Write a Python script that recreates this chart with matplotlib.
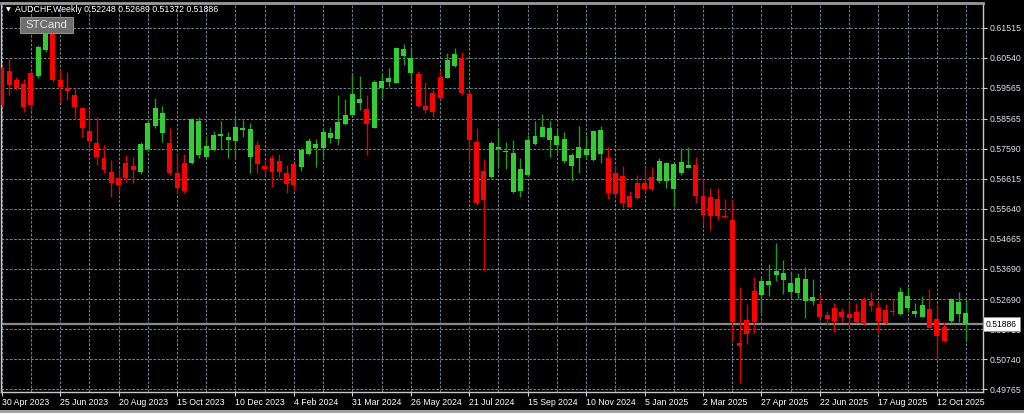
import numpy as np
import pandas as pd
import matplotlib
matplotlib.use('Agg')
from matplotlib import pyplot as plt
from matplotlib import transforms
from matplotlib.patches import Rectangle

symbol = 'AUDCHF,Weekly'
indicator = 'STCand'
first_week = '2023-04-30'

# weekly bars (price units)
opens = [0.60214, 0.60116, 0.59823, 0.59693, 0.60051, 0.59953, 0.60799, 0.61352, 0.59823, 0.59563,
         0.59336, 0.58913, 0.58165, 0.57775, 0.57287, 0.56831, 0.56636, 0.57124, 0.57027, 0.56831,
         0.57580, 0.58328, 0.58100, 0.57775, 0.56799, 0.57124, 0.57124, 0.57384, 0.57319, 0.57547,
         0.58002, 0.57872, 0.57840, 0.58198, 0.57319, 0.57710, 0.57027, 0.57287, 0.57189, 0.56799,
         0.57092, 0.56994, 0.57417, 0.57612, 0.57612, 0.57937, 0.57905, 0.58393, 0.58685, 0.59075,
         0.58880, 0.58263, 0.59563, 0.59758, 0.59726, 0.60604, 0.60051, 0.60019, 0.58978, 0.59401,
         0.59921, 0.59888, 0.60279, 0.60539, 0.59368, 0.57807, 0.56864, 0.56669, 0.57580, 0.57482,
         0.56181, 0.56214, 0.56734, 0.57742, 0.57970, 0.57872, 0.57710, 0.57189, 0.57027, 0.57287,
         0.57384, 0.57222, 0.57417, 0.57287, 0.56799, 0.56701, 0.56051, 0.56474, 0.56474, 0.56669,
         0.56539, 0.56539, 0.56279, 0.56799, 0.56962, 0.57059, 0.56051, 0.56019, 0.55954, 0.55401,
         0.55271, 0.51271, 0.52019, 0.52962, 0.52832, 0.53157, 0.53482, 0.53319, 0.52930, 0.52897,
         0.52637, 0.52637, 0.52539, 0.52181, 0.52409, 0.52279, 0.52214, 0.52279, 0.52702, 0.52637,
         0.52409, 0.52344, 0.52311, 0.52214, 0.52409, 0.52214, 0.52116, 0.52377, 0.52051, 0.51791,
         0.51986, 0.52214, 0.52248]
highs = [0.60279, 0.60539, 0.59921, 0.59856, 0.60149, 0.60962, 0.61449, 0.61384, 0.60181, 0.60084,
         0.59563, 0.58945, 0.58913, 0.58620, 0.57710, 0.57222, 0.56929, 0.57384, 0.57319, 0.57807,
         0.58555, 0.59238, 0.58978, 0.58263, 0.57449, 0.57417, 0.58588, 0.58620, 0.57970, 0.58165,
         0.58490, 0.58132, 0.58653, 0.58523, 0.58425, 0.57840, 0.57222, 0.57384, 0.57417, 0.57059,
         0.57124, 0.57612, 0.57937, 0.57905, 0.58263, 0.58295, 0.59336, 0.59206, 0.60019, 0.59953,
         0.59336, 0.59823, 0.60019, 0.60214, 0.60880, 0.60994, 0.60897, 0.60116, 0.59758, 0.59531,
         0.60116, 0.60701, 0.60864, 0.60734, 0.59498, 0.58263, 0.57254, 0.57840, 0.58198, 0.57807,
         0.57872, 0.57287, 0.58035, 0.58490, 0.58718, 0.58490, 0.58230, 0.58132, 0.57449, 0.58328,
         0.58035, 0.58198, 0.58328, 0.57645, 0.57027, 0.57027, 0.56214, 0.56734, 0.56994, 0.56994,
         0.57287, 0.57157, 0.57124, 0.57612, 0.57645, 0.57319, 0.56636, 0.56311, 0.56311, 0.55954,
         0.55921, 0.53092, 0.52539, 0.53417, 0.53417, 0.53840, 0.54523, 0.53970, 0.53580, 0.53547,
         0.53742, 0.53352, 0.52864, 0.52311, 0.52572, 0.52409, 0.52604, 0.52572, 0.52767, 0.52930,
         0.52604, 0.52539, 0.52702, 0.53092, 0.53092, 0.52572, 0.52799, 0.53027, 0.52507, 0.51954,
         0.52734, 0.52930, 0.52689]
lows = [0.58945, 0.59336, 0.59498, 0.58783, 0.58848, 0.59888, 0.60734, 0.59758, 0.59108, 0.59173,
        0.58555, 0.57970, 0.57677, 0.57059, 0.56799, 0.56019, 0.56181, 0.56506, 0.56474, 0.56766,
        0.57515, 0.58263, 0.57807, 0.56734, 0.56149, 0.56149, 0.57092, 0.57287, 0.57319, 0.57515,
        0.57547, 0.57287, 0.57287, 0.57970, 0.56799, 0.56799, 0.56734, 0.56344, 0.56669, 0.56149,
        0.56246, 0.56864, 0.57384, 0.56994, 0.57319, 0.57775, 0.57710, 0.58360, 0.58685, 0.58848,
        0.57384, 0.58263, 0.59238, 0.59596, 0.59710, 0.60311, 0.59758, 0.58945, 0.58750, 0.58620,
        0.59206, 0.59888, 0.60246, 0.59336, 0.57157, 0.55759, 0.53612, 0.56636, 0.56994, 0.56929,
        0.56149, 0.56019, 0.56701, 0.57710, 0.57970, 0.57319, 0.57449, 0.57124, 0.56539, 0.56799,
        0.57254, 0.57189, 0.57124, 0.55954, 0.56019, 0.55661, 0.55693, 0.55954, 0.56181, 0.56246,
        0.56474, 0.56311, 0.55693, 0.56734, 0.56962, 0.55824, 0.55108, 0.54945, 0.55271, 0.55336,
        0.51336, 0.49970, 0.51238, 0.51596, 0.52246, 0.52799, 0.53287, 0.52864, 0.52734, 0.52702,
        0.52084, 0.52507, 0.52084, 0.51856, 0.51629, 0.51954, 0.51791, 0.51921, 0.51856, 0.52311,
        0.51596, 0.51889, 0.52181, 0.52181, 0.52279, 0.52116, 0.52116, 0.51759, 0.50750, 0.51303,
        0.51921, 0.51954, 0.51372]
closes = [0.59010, 0.59661, 0.59563, 0.58945, 0.59010, 0.60897, 0.61352, 0.59823, 0.59596, 0.59466,
          0.58945, 0.58263, 0.57840, 0.57319, 0.56897, 0.56474, 0.56409, 0.56636, 0.56897, 0.57742,
          0.58425, 0.58913, 0.58750, 0.56799, 0.56311, 0.56214, 0.58555, 0.58490, 0.57677, 0.58035,
          0.58067, 0.57970, 0.58295, 0.58263, 0.58230, 0.57092, 0.56929, 0.56831, 0.56831, 0.56441,
          0.56409, 0.57547, 0.57840, 0.57742, 0.58132, 0.58100, 0.58458, 0.58685, 0.59368, 0.59206,
          0.58393, 0.59758, 0.59791, 0.59888, 0.60864, 0.60832, 0.60539, 0.58978, 0.58848, 0.58783,
          0.59238, 0.60474, 0.60669, 0.59401, 0.57872, 0.55824, 0.55921, 0.57775, 0.57645, 0.57515,
          0.57449, 0.56929, 0.57872, 0.58002, 0.58295, 0.58263, 0.58002, 0.57905, 0.57384, 0.57645,
          0.57580, 0.58165, 0.58198, 0.56149, 0.56116, 0.55824, 0.55693, 0.55986, 0.56279, 0.56279,
          0.57189, 0.57124, 0.57092, 0.57157, 0.57059, 0.56051, 0.55433, 0.55401, 0.55401, 0.55368,
          0.51954, 0.51173, 0.51563, 0.51954, 0.53287, 0.53287, 0.53612, 0.53547, 0.53222, 0.53384,
          0.53352, 0.52767, 0.52116, 0.52051, 0.51986, 0.52116, 0.52084, 0.51954, 0.51889, 0.52474,
          0.51986, 0.51921, 0.52279, 0.52930, 0.52799, 0.52311, 0.52507, 0.51759, 0.51498, 0.51336,
          0.52702, 0.52604, 0.51886]

# STCand colouring per bar (g = up colour, r = down colour)
st_colour = ("r" * 5 + "g" * 2 + "r" * 12 + "g" * 4 + "r" * 3 + "g" * 9 + "r" * 6 + "g" * 9
             + "r" + "g" * 6 + "r" * 4 + "g" * 2 + "r" * 4 + "g" * 16 + "r" * 7 + "g" * 5
             + "r" * 9 + "g" * 8 + "r" * 11 + "g" * 4 + "r" * 3 + "g" * 3)

price_ticks = ['0.49765', '0.50740', '0.51715', '0.52690', '0.53690', '0.54665', '0.55640',
               '0.56615', '0.57590', '0.58565', '0.59565', '0.60540', '0.61515']

weeks = pd.date_range(first_week, periods=len(opens), freq='7D')
x = np.arange(len(opens))
o = np.array(opens)
h = np.array(highs)
l = np.array(lows)
c = np.array(closes)

plt.rcParams['font.family'] = ['Liberation Sans', 'DejaVu Sans']

fig = plt.figure(figsize=(10.24, 4.13), dpi=100, facecolor='black')
ax = fig.add_axes([1 / 1024, 21 / 413, 982 / 1024, 389 / 413])
ax.set_facecolor('black')

bull = np.array([s == 'g' for s in st_colour])
body_col = np.where(bull, '#32CD32', '#FF0000')
wick_col = np.where(bull, '#1F9A1F', '#E00000')
bot = np.minimum(o, c)
body_h = np.maximum(np.abs(c - o), 0.0003)

ax.vlines(x, l, h, colors=wick_col, linewidth=1.0, zorder=3)
ax.bar(x, body_h, bottom=bot, width=0.68, color=body_col, linewidth=0, zorder=4)

# current price line + tag (the tag covers part of the 0.51715 label, as in MT4)
ax.axhline(c[-1], color='#8a8a8a', linewidth=1.6, zorder=2)
trans = transforms.blended_transform_factory(ax.transAxes, ax.transData)
ax.text(1.003, c[-1], f'{c[-1]:.5f}', transform=trans, ha='left', va='center',
        fontsize=6.2, color='black', zorder=10, clip_on=False,
        bbox=dict(boxstyle='square,pad=0.3', facecolor='white', edgecolor='#909090', linewidth=0.6))

ax.set_xlim(-0.1, 134.33)
ax.set_ylim(0.49677, 0.62327)

ax.set_xticks(x[::8])
ax.set_xticklabels([f"{d.day} {d.strftime('%b %Y')}" for d in weeks[::8]], ha='left')
ax.set_xticks(x[::4], minor=True)
ax.yaxis.tick_right()
ax.set_yticks([float(t) for t in price_ticks])
ax.set_yticklabels(price_ticks)

grid_kw = dict(color='#6F7E8F', linestyle=(0, (2.4, 1.4)), linewidth=0.8)
ax.grid(axis='x', which='both', **grid_kw)
ax.grid(axis='y', which='major', **grid_kw)
ax.set_axisbelow(True)

ax.tick_params(axis='x', which='major', colors='#d0d0d0', labelcolor='white', labelsize=6.3,
               length=3, width=0.8, pad=1.5, direction='out')
ax.tick_params(axis='x', which='minor', length=0)
ax.tick_params(axis='y', colors='#d0d0d0', labelcolor='#dde3ea', labelsize=6.3,
               length=3, width=0.8, pad=2, direction='out')

for side in ('left', 'right', 'bottom'):
    ax.spines[side].set_color('#c8c8c8')
    ax.spines[side].set_linewidth(1.0)
ax.spines['top'].set_color('#9a9a9a')
ax.spines['top'].set_linewidth(2.0)

# header: symbol and last bar OHLC
fig.text(8 / 1024, 1 - 10 / 413, '\u25bc', family='DejaVu Sans', fontsize=4.5, color='white',
         ha='center', va='center')
fig.text(15 / 1024, 1 - 10 / 413,
         f'{symbol} ' + ' '.join(f'{v:.5f}' for v in (o[-1], h[-1], l[-1], c[-1])),
         color='white', fontsize=6.3, ha='left', va='center')

# indicator label
fig.patches.append(Rectangle((20 / 1024, 1 - 33 / 413), 53 / 1024, 16 / 413,
                             transform=fig.transFigure, facecolor='#6E6E6E',
                             edgecolor='#909090', linewidth=0.8, zorder=5))
fig.text(46.5 / 1024, 1 - 25 / 413, indicator, color='#E6E6E6', fontsize=8.2,
         ha='center', va='center', zorder=6)

fig.patches.append(Rectangle((0, 0), 1, 3 / 413, transform=fig.transFigure,
                             facecolor='#a0a0a0', edgecolor='none'))

fig.savefig('out.png', dpi=100, facecolor='black')
